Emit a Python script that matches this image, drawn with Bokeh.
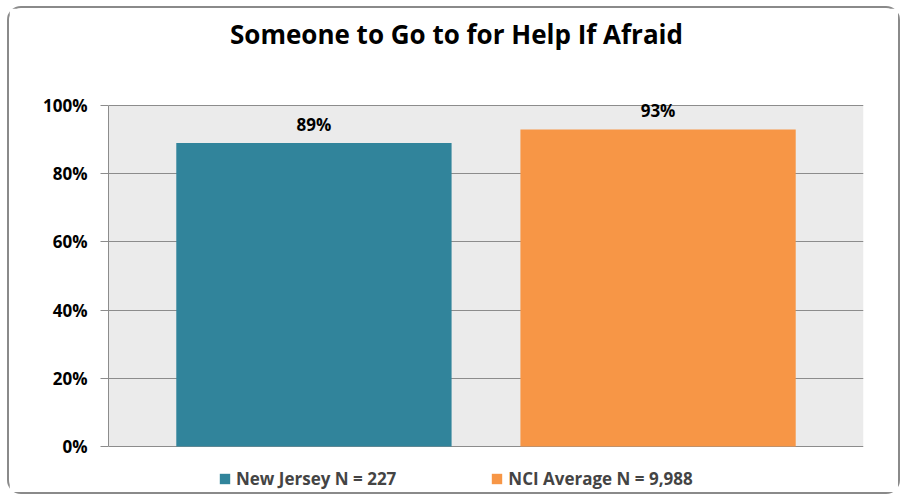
from bokeh.plotting import figure
from bokeh.models import (ColumnDataSource, FactorRange, Range1d, FixedTicker, LabelSet,
                          Label, Legend, LegendItem, BoxAnnotation)
from bokeh.core.properties import value
from bokeh.embed import file_html
from bokeh.resources import INLINE

title_text = "Someone to Go to for Help If Afraid"
categories = ["New Jersey N = 227", "NCI Average N = 9,988"]
values = [89, 93]
colors = ["#31849B", "#F79646"]
y_ticks = [0, 20, 40, 60, 80, 100]
y_tick_labels = ["0%", "20%", "40%", "60%", "80%", "100%"]

FONT = "Open Sans"
SMALL = "17px"

src = ColumnDataSource(dict(cat=categories, val=values, color=colors,
                            lab=[f"{v}%" for v in values]))

W, H = 893, 488
p = figure(width=W, height=H,
           x_range=FactorRange(*categories, range_padding=0.097, range_padding_units="absolute"),
           y_range=Range1d(-14.66, 128.45),
           x_axis_location=None,
           output_backend="svg", toolbar_location=None,
           min_border_left=99, min_border_right=39, min_border_top=0, min_border_bottom=0)

p.styles = {"border": "2px solid #8a8a8a", "border-radius": "14px",
            "margin-left": "7px", "margin-top": "6px"}

p.background_fill_color = "white"
p.border_fill_color = "white"
p.outline_line_color = None

plot_bg = BoxAnnotation(bottom=0, top=100, fill_color="#ebebeb", fill_alpha=1,
                        line_color=None, level="image")
p.add_layout(plot_bg)

r = p.vbar(x="cat", top="val", width=0.8, source=src, fill_color="color",
           line_color=None)

p.xgrid.grid_line_color = None
p.ygrid.ticker = FixedTicker(ticks=y_ticks)
p.ygrid.grid_line_color = "#8c8c8c"
p.ygrid.grid_line_width = 1

ax = p.yaxis[0]
ax.ticker = FixedTicker(ticks=y_ticks)
ax.bounds = (0, 100)
ax.major_label_overrides = {t: l for t, l in zip(y_ticks, y_tick_labels)}
ax.axis_line_color = "#8c8c8c"
ax.major_tick_line_color = "#8c8c8c"
ax.major_tick_out = 8
ax.major_tick_in = 0
ax.minor_tick_line_color = None
ax.major_label_standoff = 13
ax.major_label_text_font = FONT
ax.major_label_text_font_style = "bold"
ax.major_label_text_font_size = SMALL
ax.major_label_text_color = "black"

labels = LabelSet(x="cat", y="val", text="lab", source=src, text_align="center",
                  text_baseline="alphabetic", y_offset=12, text_font=value(FONT),
                  text_font_style="bold", text_font_size=SMALL, text_color="black")
p.add_layout(labels)

title = Label(x=348, y=463, x_units="screen", y_units="screen", text=title_text,
              text_align="center", text_baseline="alphabetic", text_font=FONT,
              text_font_style="bold", text_font_size="26px", text_color="black")
p.add_layout(title)

items = [LegendItem(label=c, renderers=[r], index=i) for i, c in enumerate(categories)]
lg = Legend(items=items, location=(110, 6), orientation="horizontal")
lg.spacing = 94
lg.label_standoff = 5
lg.glyph_width = 13
lg.glyph_height = 13
lg.label_text_font = FONT
lg.label_text_font_style = "bold"
lg.label_text_font_size = SMALL
lg.border_line_color = None
lg.background_fill_alpha = 0
lg.padding = 0
lg.margin = 0
p.add_layout(lg, "center")

open("out.html", "w").write(file_html(p, INLINE))
